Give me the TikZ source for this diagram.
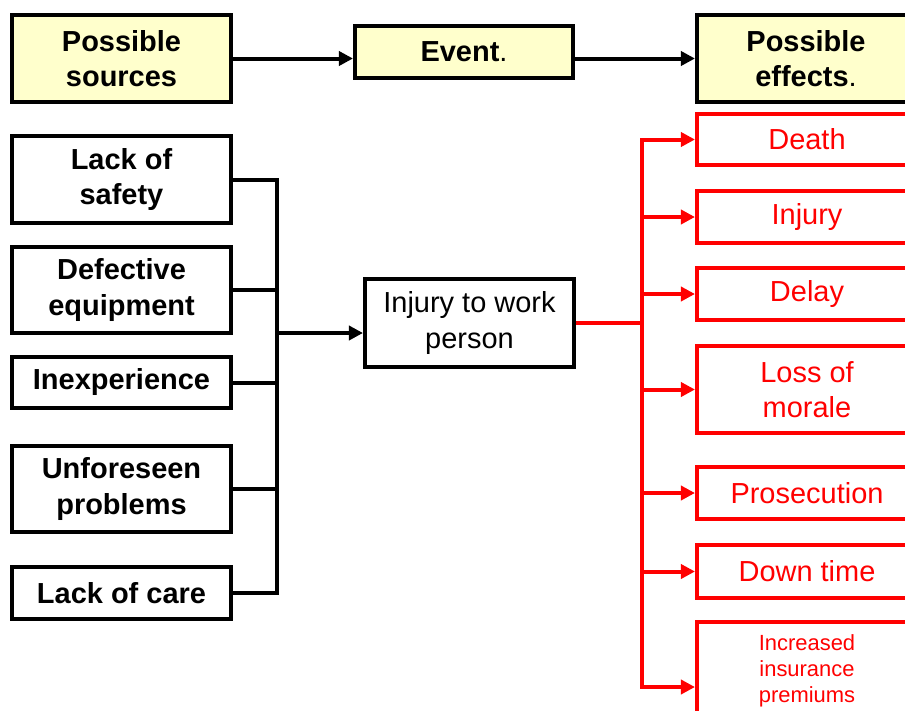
\documentclass[tikz,border=0pt]{standalone}
\usepackage{fontspec}
\setmainfont{Liberation Sans}
\usetikzlibrary{arrows.meta, positioning}

\definecolor{headyellow}{RGB}{255,255,204}

\begin{document}
\begin{tikzpicture}[
				x=0.025cm, y=-0.025cm,
				>={Triangle[length=0.35cm,width=0.35cm]},
				head/.style={
					draw,
					fill=headyellow,
					line width=0.1cm,
					minimum width=5.48cm,
					inner sep=0pt,
					align=center,
					font=\fontsize{20.6}{25}\selectfont\bfseries
				},
				cause/.style={
					draw,
					fill=white,
					line width=0.1cm,
					minimum width=5.48cm,
					inner sep=0pt,
					align=center,
					font=\fontsize{20.6}{25}\selectfont\bfseries
				},
				effect/.style={
					draw=red,
					fill=white,
					text=red,
					line width=0.1cm,
					minimum width=5.5cm,
					inner sep=0pt,
					align=center,
					font=\fontsize{20.6}{25}\selectfont
				},
				link/.style={line width=0.1cm},
				redlink/.style={draw=red, line width=0.1cm}
				]

				\useasboundingbox (0,0) rectangle (905,710);
				\clip (0,0) rectangle (905,710);
				\fill[white] (0,0) rectangle (905,710);

				%------------------------------------------------
				% TOP ROW
				%------------------------------------------------

				\node[head, minimum height=2.175cm] (src) at (121.5,58.5)
				{Possible\\sources};

				\node[
				head,
				minimum width=5.45cm,
				minimum height=1.3cm
				] (ev) at (464,52) {Event\textmd{.}};

				\node[head, minimum width=5.45cm, minimum height=2.175cm] (eff) at (806,58.5)
				{Possible\\effects\textmd{.}};

				\draw[->,link] (src.east) -- (src.east -| ev.west);
				\draw[->,link] (ev.east |- src.east) -- (src.east -| eff.west);

				%------------------------------------------------
				% LEFT COLUMN (sources)
				%------------------------------------------------

				\node[cause, minimum height=2.175cm] (safety) at (121.5,179.5)
				{Lack of\\safety};

				\node[cause, minimum height=2.15cm] (defect) at (121.5,290)
				{Defective\\equipment};

				\node[cause, minimum height=1.275cm] (inexp) at (121.5,382.5)
				{Inexperience};

				\node[cause, minimum height=2.15cm] (unfore) at (121.5,489)
				{Unforeseen\\problems};

				\node[cause, minimum height=1.3cm] (care) at (121.5,593)
				{Lack of care};

				%------------------------------------------------
				% MIDDLE (event)
				%------------------------------------------------

				\node[
				draw,
				line width=0.1cm,
				minimum width=5.225cm,
				minimum height=2.2cm,
				inner sep=0pt,
				align=center,
				font=\fontsize{20.6}{25}\selectfont
				] (inj) at (469.5,323) {Injury to work\\person};

				\coordinate (bus) at (277,333);

				\draw[link] (safety.east) -| (bus) |- (care.east);
				\draw[link] (defect.east) -- (defect.east -| bus);
				\draw[link] (inexp.east) -- (inexp.east -| bus);
				\draw[link] (unfore.east) -- (unfore.east -| bus);
				\draw[->,link] (bus) -- (bus -| inj.west);

				%------------------------------------------------
				% RIGHT COLUMN (effects)
				%------------------------------------------------

				\node[effect, minimum height=1.275cm] (death) at (807,139.5) {Death};
				\node[effect, minimum height=1.3cm] (injury) at (807,217) {Injury};
				\node[effect, minimum height=1.3cm] (delay) at (807,294) {Delay};
				\node[effect, minimum height=2.175cm] (loss) at (807,389.5) {Loss of\\morale};
				\node[effect, minimum height=1.3cm] (prosec) at (807,493) {Prosecution};
				\node[effect, minimum height=1.325cm] (down) at (807,571.5) {Down time};
				\node[
				effect,
				minimum height=2.45cm,
				font=\fontsize{15.6}{18.4}\selectfont
				] (ins) at (807,671) {Increased\\insurance\\premiums};

				%------------------------------------------------
				% EFFECT ARROWS
				%------------------------------------------------

				\coordinate (fork) at ([xshift=1.65cm]inj.east);

				\draw[redlink] (inj.east) -- (fork);
				\draw[->,redlink] (fork) |- (death.west);
				\draw[->,redlink] (fork) |- (injury.west);
				\draw[->,redlink] (fork) |- (delay.west);
				\draw[->,redlink] (fork) |- (loss.west);
				\draw[->,redlink] (fork) |- (prosec.west);
				\draw[->,redlink] (fork) |- (down.west);
				\draw[->,redlink] (fork) |- ([yshift=-0.4cm]ins.west);

			\end{tikzpicture}
\end{document}
